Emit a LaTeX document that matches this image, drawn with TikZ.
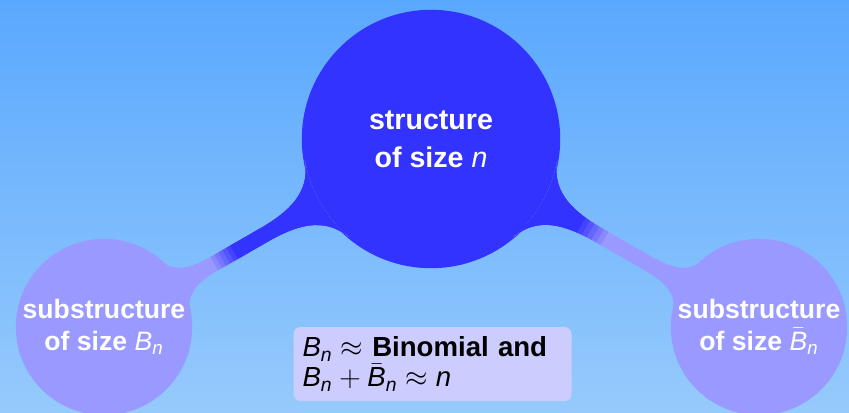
\documentclass[tikz,border=0pt]{standalone}
\usepackage{fontspec}
\setmainfont{Liberation Sans}
\usetikzlibrary{mindmap,calc}
\definecolor{bgtop}{RGB}{90,168,254}
\definecolor{bgbot}{RGB}{150,202,252}
\definecolor{bigcol}{RGB}{51,51,255}
\definecolor{subcol}{RGB}{153,153,255}
\definecolor{boxcol}{RGB}{204,204,255}
\newcommand{\Bn}{\mathit{B}_{\mathit{n}}}
\newcommand{\Bbarn}{\bar{\mathit{B}}_{\mathit{n}}}
\tikzset{
  bigconcept/.style={concept, concept color=bigcol, fill=bigcol, text=white, minimum size=128pt, text width={}, inner sep=0pt, align=center, font=\bfseries\fontsize{14.3}{19}\selectfont},
  subconcept/.style={concept, concept color=subcol, fill=subcol, text=white, minimum size=87pt, text width={}, inner sep=0pt, align=center, font=\bfseries\fontsize{13.3}{16}\selectfont},
  barfill/.style={concept color=#1, color=#1, fill=#1},
  factbox/.style={fill=boxcol, rounded corners=3.5pt, text width=130pt, inner xsep=4.5pt, minimum height=37pt, align=left, font=\fontsize{13.8}{15}\selectfont}
}
\begin{document}
\begin{tikzpicture}[x=0.5pt, y=-0.5pt]
	\useasboundingbox (0,0) rectangle (849,412);
	\shade[top color=bgtop, bottom color=bgbot] (0,0) rectangle (849,412);
	
	% === mindmap ===
	\begin{scope}[mindmap]
		\node[bigconcept] (whole) at (431,139) {structure\\ of size $\mathit{n}$};
		\node[subconcept] (left) at (104,327) {substructure\\ of size $\Bn$};
		\node[subconcept] (right) at (759,327) {substructure\\ of size $\Bbarn$};
		
		% connection bars, colour switches between da and db
		\foreach \sub/\da/\db in {left/0.602/0.663, right/0.458/0.529}{
			\path[barfill=subcol] (whole) to[circle connection bar] (\sub);
			\foreach \i [evaluate=\i as \f using {\da+(6-\i)*(\db-\da)/5}, evaluate=\i as \p using {\i*100/6}] in {1,...,6}{
				\begin{scope}
					\path ($(whole)!\f!(\sub)$) coordinate (cut);
					\clip ($(cut)!60pt!90:(\sub)$) -- ($(cut)!60pt!-90:(\sub)$) -- ($(whole)!60pt!-90:(\sub)$) -- ($(whole)!60pt!90:(\sub)$) -- cycle;
					\path[barfill=bigcol!\p!subcol] (whole) to[circle connection bar] (\sub);
				\end{scope}
			}
		}
	\end{scope}
	
	% fact box
	\node[factbox] (fact) at (432.5,364) {$\Bn\approx$ \textbf{Binomial and}\\ $\Bn+\Bbarn\approx\mathit{n}$};
\end{tikzpicture}
\end{document}
